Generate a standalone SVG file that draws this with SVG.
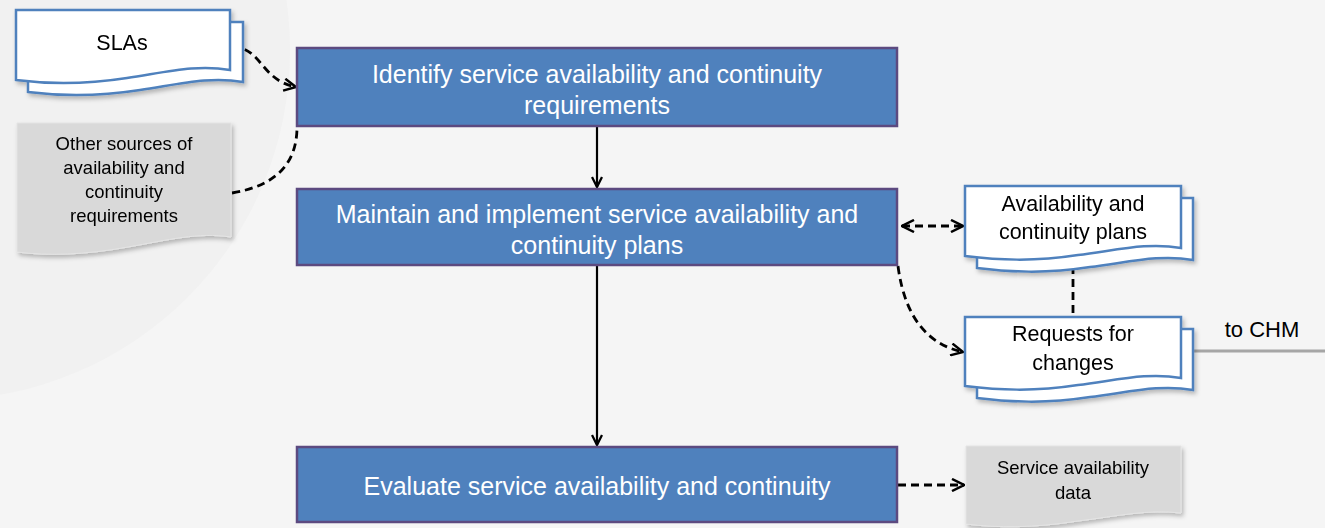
<svg xmlns="http://www.w3.org/2000/svg" width="1325" height="528" viewBox="0 0 1325 528">
<defs>
<style>
.proc{fill:#4f81bd;stroke:#5c4a80;stroke-width:2.5}
.ptxt{font-family:"Liberation Sans",Arial,sans-serif;font-size:25px;fill:#ffffff;text-anchor:middle}
.doc{fill:#ffffff;stroke:#4f81bd;stroke-width:2.5}
.gdoc{fill:#d9d9d9;stroke:#e4e4e4;stroke-width:1}
.dtxt{font-family:"Liberation Sans",Arial,sans-serif;font-size:21.5px;fill:#000000;text-anchor:middle}
.stxt{font-family:"Liberation Sans",Arial,sans-serif;font-size:18.5px;fill:#000000;text-anchor:middle}
.solid{fill:none;stroke:#000;stroke-width:2.2}
.dash{fill:none;stroke:#000;stroke-width:2.8;stroke-dasharray:8,5}
</style>
<marker id="ah" viewBox="0 0 12 12" refX="11" refY="6" markerWidth="12" markerHeight="12" markerUnits="userSpaceOnUse" orient="auto-start-reverse">
<path d="M1,1 L11,6 L1,11" fill="none" stroke="#000" stroke-width="2.3"/>
</marker>
<marker id="ah2" viewBox="0 0 14 14" refX="13" refY="7" markerWidth="14" markerHeight="14" markerUnits="userSpaceOnUse" orient="auto-start-reverse">
<path d="M1,1 L13,7 L1,13" fill="none" stroke="#000" stroke-width="2.5"/>
</marker>
<filter id="sh" x="-10%" y="-10%" width="130%" height="140%">
<feDropShadow dx="2" dy="3" stdDeviation="2" flood-color="#000" flood-opacity="0.25"/>
</filter>
</defs>
<rect width="1325" height="528" fill="#f5f5f5"/>
<circle cx="-60" cy="50" r="350" fill="#f1f1f1"/>

<g id="connectors">
<line class="solid" x1="597" y1="127" x2="597" y2="187" marker-end="url(#ah)"/>
<line class="solid" x1="597" y1="266" x2="597" y2="445" marker-end="url(#ah)"/>
<path class="dash" d="M232,47 C262,47 260,80 296,87" marker-end="url(#ah2)"/>
<path class="dash" d="M232,193 C280,185 297,160 297,127"/>
<line class="dash" x1="902" y1="226" x2="963" y2="226" marker-start="url(#ah2)" marker-end="url(#ah2)"/>
<path class="dash" d="M898,266 C905,320 930,345 963,352" marker-end="url(#ah2)"/>
<line class="dash" x1="1073" y1="266" x2="1073" y2="315"/>
<line class="dash" x1="898" y1="485" x2="964" y2="485" marker-end="url(#ah2)"/>
<line x1="1194" y1="351" x2="1325" y2="351" stroke="#a6a6a6" stroke-width="3"/>
</g>

<g id="n1">
<rect class="proc" x="297" y="48" width="600" height="78"/>
<text class="ptxt" x="597" y="83">Identify service availability and continuity</text>
<text class="ptxt" x="597" y="114">requirements</text>
</g>
<g id="n2">
<rect class="proc" x="297" y="189" width="600" height="76"/>
<text class="ptxt" x="597" y="223">Maintain and implement service availability and</text>
<text class="ptxt" x="597" y="254">continuity plans</text>
</g>
<g id="n3">
<rect class="proc" x="297" y="447" width="600" height="75"/>
<text class="ptxt" x="597" y="495">Evaluate service availability and continuity</text>
</g>

<g id="slas" filter="url(#sh)">
<path class="doc" d="M28,22 H243 V82 C210,76 180,84 140,90 C95,97 60,96 28,92 Z"/>
<path class="doc" d="M16,10 H230 V70 C197,64 167,72 127,78 C82,85 47,84 16,80 Z"/>
<text class="dtxt" x="122" y="50">SLAs</text>
</g>

<g id="other" filter="url(#sh)">
<path class="gdoc" d="M17,123 H231 V237 C198,232 168,240 128,247 C84,255 48,256 17,252 Z"/>
<text class="stxt" x="124" y="150">Other sources of</text>
<text class="stxt" x="124" y="174">availability and</text>
<text class="stxt" x="124" y="198">continuity</text>
<text class="stxt" x="124" y="222">requirements</text>
</g>

<g id="plans" filter="url(#sh)">
<path class="doc" d="M977,198 H1193 V260 C1160,254 1130,262 1090,267 C1045,274 1010,272 977,268 Z"/>
<path class="doc" d="M965,186 H1181 V248 C1148,242 1118,250 1078,255 C1033,262 998,260 965,256 Z"/>
<text class="dtxt" x="1073" y="211">Availability and</text>
<text class="dtxt" x="1073" y="239">continuity plans</text>
</g>

<g id="rfc" filter="url(#sh)">
<path class="doc" d="M977,329 H1193 V390 C1160,384 1130,392 1090,397 C1045,404 1010,402 977,398 Z"/>
<path class="doc" d="M965,317 H1181 V378 C1148,372 1118,380 1078,385 C1033,392 998,390 965,386 Z"/>
<text class="dtxt" x="1073" y="341">Requests for</text>
<text class="dtxt" x="1073" y="370">changes</text>
</g>

<text x="1262" y="337" class="dtxt" style="font-size:22px">to CHM</text>

<g id="sad" filter="url(#sh)">
<path class="gdoc" d="M966,446 H1181 V513 C1148,509 1118,516 1078,521 C1033,528 998,528 966,524 Z"/>
<text class="stxt" x="1073" y="474">Service availability</text>
<text class="stxt" x="1073" y="499">data</text>
</g>
</svg>
